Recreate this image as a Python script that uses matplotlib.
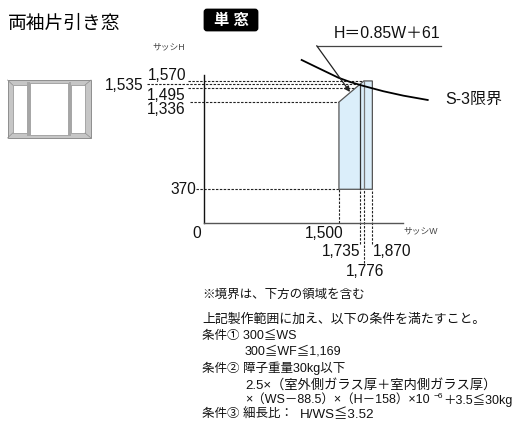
import matplotlib
matplotlib.use("Agg")
import matplotlib.pyplot as plt
from matplotlib.patches import Rectangle, FancyBboxPatch

plt.rcParams['font.family'] = ['Liberation Sans', 'Noto Sans CJK JP', 'DejaVu Sans']

# 製作範囲
region_w = [1500, 1500, 1735, 1776, 1870, 1870]
region_h = [370, 1336, 1535, 1570, 1570, 370]

# S-3 limit curve
s3_w = [1087, 1254, 1493, 1622, 1770, 1991, 2213, 2483]
s3_h = [1802, 1721, 1606, 1559, 1515, 1456, 1407, 1359]

h_values = [1570, 1535, 1495, 1336, 370]
w_values = [1500, 1735, 1776, 1870]

W, H = 516, 423
fig = plt.figure(figsize=(W / 100, H / 100), dpi=100)

# data axes, 0.0903 px per unit
x0, y0 = 203.5, 222.7
scale = 0.0903
xmax, ymax = 2207, 1636
ax = fig.add_axes([x0 / W, (H - y0) / H, xmax * scale / W, ymax * scale / H])
ax.set_xlim(0, xmax)
ax.set_ylim(0, ymax)
ax.patch.set_alpha(0)
ax.set_xticks([])
ax.set_yticks([])
ax.spines['top'].set_visible(False)
ax.spines['right'].set_visible(False)
ax.spines['left'].set_linewidth(1.0)
ax.spines['left'].set_color('#111111')
ax.spines['bottom'].set_linewidth(1.0)
ax.spines['bottom'].set_color('#555555')

ax.fill(region_w, region_h, facecolor='#dbeefa', edgecolor='#555555', lw=0.9, zorder=2)
ax.plot([1735, 1735], [370, 1535], color='#333333', lw=0.9, zorder=3)
ax.plot([1776, 1776], [370, 1570], color='#777777', lw=0.9, zorder=3)

# dashed guides
dash = dict(color='#222222', lw=0.8, ls=(0, (2.2, 1.3)), clip_on=False, zorder=1)
h_start = [-172, -625, -172, -150, -80]
h_end = [1776, 1735, 1870, 1500, 1500]
for v, a, b in zip(h_values, h_start, h_end):
    ax.plot([a, b], [v, v], **dash)
w_bottom = [0, -236, -443, -236]
w_top = [370, 370, 370, 370]
for v, a, b in zip(w_values, w_bottom, w_top):
    ax.plot([v, v], [a, b], **dash)

ax.plot(s3_w, s3_h, color='black', lw=1.3, clip_on=False, zorder=5)

# overlay in pixel coordinates for labels and the window icon
ov = fig.add_axes([0, 0, 1, 1])
ov.set_xlim(0, W)
ov.set_ylim(H, 0)
ov.axis('off')
ov.patch.set_alpha(0)

ov.text(8, 24, '両袖片引き窓', fontsize=13.5, va='center', ha='left', color='#000000')

ov.add_patch(FancyBboxPatch((205, 10), 52, 20, boxstyle='round,pad=0,rounding_size=2',
                            facecolor='black', edgecolor='black', lw=2))
ov.text(231, 20.5, '単 窓', color='white', fontsize=11, fontweight='bold', ha='center', va='center')

ov.text(152, 47, 'サッシH', fontsize=6.3, color='#444444', va='center')
ov.text(403, 231, 'サッシW', fontsize=6.3, color='#444444', va='center')

num = dict(fontsize=11.2, color='#111111', va='center')
for v, px, py in zip(h_values, [186, 143, 186, 186, 196], [75, 85, 95, 109.5, 189]):
    ov.text(px, py, f'{v:,}', ha='right', **num)
ov.text(197, 233, '0', ha='center', **num)
for v, px, py in zip(w_values, [324, 341, 365, 392], [234, 252, 272, 252]):
    ov.text(px, py, f'{v:,}', ha='center', **num)

# fullwidth signs as in the original
EQ, PLUS, MINUS = '\uff1d', '\uff0b', '\uff0d'
LP, RP, COLON = '\uff08', '\uff09', '\uff1a'

# leader for the slope
ov.text(334, 33, f'H{EQ}0.85W{PLUS}61', fontsize=11.4, color='#111111', va='center')
ov.plot([441, 316.7], [45.7, 45.7], color='#444444', lw=0.9)
ov.annotate('', xy=(350, 92), xytext=(316.7, 45.7),
            arrowprops=dict(arrowstyle='-|>', color='#222222', lw=0.9, mutation_scale=8,
                            shrinkA=0, shrinkB=0))
ov.text(445, 99, 'S-3限界', fontsize=11.5, color='#111111', va='center')

# window icon
g1, g2 = '#c6c6c6', '#8e8e8e'
ov.add_patch(Rectangle((7.5, 80), 83.5, 58, facecolor=g1, edgecolor=g2, lw=0.7))
for px, py, pw, ph in [(12.7, 85, 14, 48), (30, 83.5, 38.3, 51.5), (71, 85, 14, 48)]:
    ov.add_patch(Rectangle((px, py), pw, ph, facecolor='white', edgecolor=g2, lw=0.5))
for px in [27, 68.5]:
    ov.add_patch(Rectangle((px, 82), 2.6, 54, facecolor='#a6a6a6', edgecolor='none'))
ov.plot([7.5, 12.7], [80, 85], color=g2, lw=0.5)
ov.plot([91, 85], [80, 85], color=g2, lw=0.5)
ov.plot([7.5, 12.7], [138, 133], color=g2, lw=0.5)
ov.plot([91, 85], [138, 133], color=g2, lw=0.5)

# notes
note = dict(fontsize=9.0, color='#111111', va='center', ha='left')
ov.text(202, 295, '※境界は、下方の領域を含む', **note)
ov.text(202, 320, '上記製作範囲に加え、以下の条件を満たすこと。', fontsize=9.3, color='#111111', va='center', ha='left')
ov.text(202, 336, '条件① 300≦WS', **note)
ov.text(245, 352, '300≦WF≦1,169', **note)
ov.text(202, 368, '条件② 障子重量30kg以下', **note)
ov.text(245, 385, f'2.5×{LP}室外側ガラス厚{PLUS}室内側ガラス厚{RP}', fontsize=9.5, color='#111111', va='center', ha='left')
ov.text(245, 400, f'×{LP}WS{MINUS}88.5{RP}×{LP}H{MINUS}158{RP}×10', fontsize=9.0, color='#111111', va='center', ha='left')
ov.text(434, 397, '−6', fontsize=6, color='#111111', va='center', ha='left')
ov.text(443, 400, f'{PLUS}3.5≦30kg', fontsize=9.0, color='#111111', va='center', ha='left')
ov.text(202, 415, f'条件③ 細長比{COLON}', **note)
ov.text(300, 415, 'H/WS≦3.52', fontsize=9.6, color='#111111', va='center', ha='left')

fig.savefig('out.png', dpi=100)
